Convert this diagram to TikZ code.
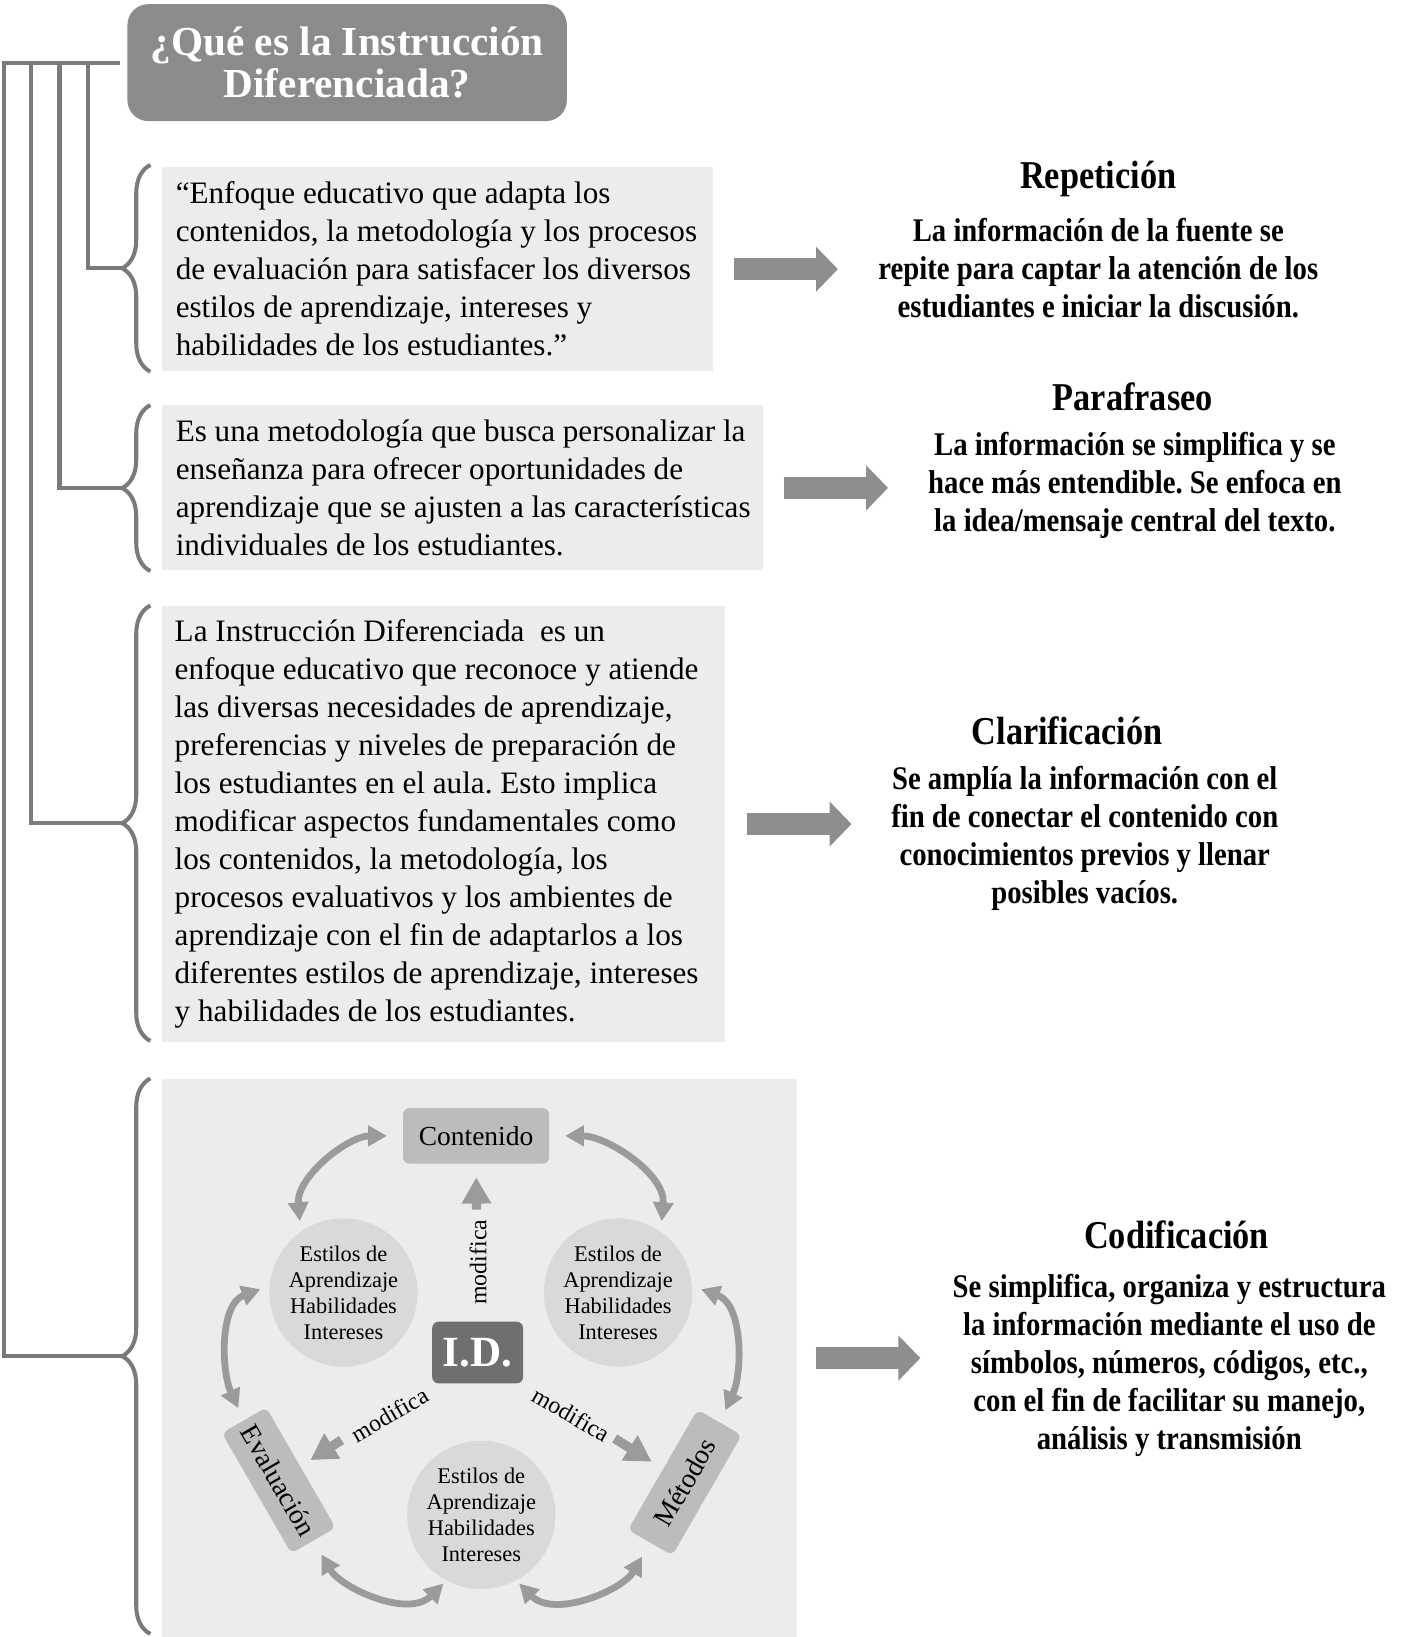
\documentclass[tikz,border=0pt]{standalone}
\usepackage{fontspec}
\setmainfont{Liberation Serif}
\newfontfamily\sidefont[FakeStretch=0.87]{Liberation Serif}
\usetikzlibrary{positioning, arrows.meta, decorations.pathreplacing}
\frenchspacing

\definecolor{bargray}{HTML}{7A7A7E}
\definecolor{titlegray}{HTML}{8B8B8D}
\definecolor{boxfill}{HTML}{ECECEC}
\definecolor{arrowgray}{HTML}{8E8E90}
\definecolor{facetfill}{HTML}{BCBCBC}
\definecolor{traitfill}{HTML}{D9D9D9}
\definecolor{corefill}{HTML}{6F6F71}
\definecolor{cycgray}{HTML}{9B9B9B}

\begin{document}
\begin{tikzpicture}[
    x=0.02cm, y=0.02cm,
    bar/.style={draw=bargray, line width=2.2pt},
    curly/.style={bar, decorate, decoration={brace, amplitude=0.54cm}},
    headbox/.style={fill=titlegray, rounded corners=0.4cm, text=white,
                    minimum width=8.42cm, minimum height=2.24cm, align=center,
                    font=\bfseries\fontsize{22.5}{22.8}\selectfont},
    txtbox/.style={fill=boxfill, anchor=north west, inner sep=0pt},
    boxtext/.style={inner sep=0pt, align=left, font=\fontsize{17}{20.7}\selectfont},
    sidetitle/.style={font=\sidefont\bfseries\fontsize{21.5}{24}\selectfont},
    sidebody/.style={align=center, font=\sidefont\bfseries\fontsize{18}{20.8}\selectfont},
    bigarrow/.style={draw=arrowgray, line width=0.42cm,
                     -{Triangle[width=0.84cm, length=0.42cm]}},
    facet/.style={fill=facetfill, rounded corners=0.12cm,
                  font=\fontsize{15}{18}\selectfont},
    trait/.style={circle, fill=traitfill, minimum size=2.84cm, inner sep=0pt,
                  align=center, font=\fontsize{12.2}{14.2}\selectfont},
    core/.style={fill=corefill, rounded corners=0.12cm, text=white,
                 minimum width=1.74cm, minimum height=1.18cm,
                 font=\bfseries\fontsize{23.5}{26}\selectfont},
    modlbl/.style={font=\fontsize{13}{15}\selectfont},
    modarrow/.style={draw=cycgray, line width=0.18cm,
                     -{Triangle[width=0.54cm, length=0.5cm]}},
    cyc/.style={draw=cycgray, line width=0.13cm,
                {Triangle[width=0.38cm, length=0.36cm]}-{Triangle[width=0.38cm, length=0.36cm]}}
  ]
  \useasboundingbox (0,0) rectangle (1357,-1568);

  % Title
  \node[headbox] (title) at (332.5,-60) {¿Qué es la Instrucción\\Diferenciada?};

  % Definitions
  \node[txtbox, minimum width=10.56cm, minimum height=3.9cm] (def1) at (155,-160) {};
  \node[boxtext, right=0.26cm of def1.west] (def1txt)
    {“Enfoque educativo que adapta los\\
     contenidos, la metodología y los procesos\\
     de evaluación para satisfacer los diversos\\
     estilos de aprendizaje, intereses y\\
     habilidades de los estudiantes.”};
  \node[txtbox, minimum width=11.52cm, minimum height=3.16cm] (def2) at (155,-388) {};
  \node[boxtext, right=0.26cm of def2.west] (def2txt)
    {Es una metodología que busca personalizar la\\
     enseñanza para ofrecer oportunidades de\\
     aprendizaje que se ajusten a las características\\
     individuales de los estudiantes.};
  \node[txtbox, minimum width=10.78cm, minimum height=8.36cm] (def3) at (155,-580) {};
  \node[boxtext, right=0.24cm of def3.west] (def3txt)
    {La Instrucción Diferenciada\ \ es un\\
     enfoque educativo que reconoce y atiende\\
     las diversas necesidades de aprendizaje,\\
     preferencias y niveles de preparación de\\
     los estudiantes en el aula. Esto implica\\
     modificar aspectos fundamentales como\\
     los contenidos, la metodología, los\\
     procesos evaluativos y los ambientes de\\
     aprendizaje con el fin de adaptarlos a los\\
     diferentes estilos de aprendizaje, intereses\\
     y habilidades de los estudiantes.};
  \node[txtbox, minimum width=12.16cm, minimum height=10.7cm] (pane) at (155,-1033) {};

  % Braces
  \draw[curly] (144,-356) -- (144,-158);
  \draw[curly] (144,-547) -- (144,-388);
  \draw[curly] (144,-997) -- (144,-580);
  \draw[curly] (144,-1565) -- (144,-1033);
  \coordinate (b1) at (117,-257);
  \coordinate (b2) at (117,-467.5);
  \coordinate (b3) at (117,-788.5);
  \coordinate (b4) at (117,-1299);

  % Trunk
  \foreach \x [count=\i] in {84,57,30,4}
    \coordinate (t\i) at (\x,-60);
  \draw[bar] ([xshift=-0.14cm]title.west) -- (t4) |- (b4);
  \foreach \i in {1,2,3}
    \draw[bar] (t\i) |- (b\i);

  % Arrows to strategies
  \draw[bigarrow] (def1.east) ++(19,0) -- ++(100,0);
  \draw[bigarrow] (def2.east) ++(19,0) -- ++(100,0);
  \draw[bigarrow] (def3.east) ++(21,0) -- ++(100,0);
  \draw[bigarrow] (pane.east) ++(18,0) -- ++(100,0);

  % Strategies
  \node[sidetitle] (repT) at (1052,-171) {Repetición};
  \node[sidebody] (rep) at (1052,-256.5)
    {La información de la fuente se\\ repite para captar la atención de los\\ estudiantes e iniciar la discusión.};
  \node[sidetitle] (parT) at (1085,-380) {Parafraseo};
  \node[sidebody] (par) at (1087,-465)
    {La información se simplifica y se\\ hace más entendible. Se enfoca en\\ la idea/mensaje central del texto.};
  \node[sidetitle] (claT) at (1022,-700) {Clarificación};
  \node[sidebody] (cla) at (1039,-803)
    {Se amplía la información con el\\ fin de conectar el contenido con\\ conocimientos previos y llenar\\ posibles vacíos.};
  \node[sidetitle] (codT) at (1127,-1183) {Codificación};
  \node[sidebody] (cod) at (1120,-1308)
    {Se simplifica, organiza y estructura\\ la información mediante el uso de\\ símbolos, números, códigos, etc.,\\ con el fin de facilitar su manejo,\\ análisis y transmisión};

  % I.D. cycle
  \node[facet, minimum width=2.8cm, minimum height=1.06cm] (cont) at (456,-1088) {Contenido};
  \node[facet, minimum width=2.66cm, minimum height=0.98cm, rotate=-60] (eval) at (267,-1418) {Evaluación};
  \node[facet, minimum width=2.66cm, minimum height=0.98cm, rotate=60] (met) at (656,-1420) {Métodos};
  \node[trait] (c1) at (329,-1238) {Estilos de\\Aprendizaje\\Habilidades\\Intereses};
  \node[trait] (c2) at (592,-1238) {Estilos de\\Aprendizaje\\Habilidades\\Intereses};
  \node[trait] (c3) at (461,-1451) {Estilos de\\Aprendizaje\\Habilidades\\Intereses};
  \node[core] (id) at (457.5,-1295.5) {I.D.};

  \draw[modarrow, shorten <=2.14cm, shorten >=0.26cm] (id.north) -- (cont.south);
  \draw[modarrow, shorten <=3.1cm, shorten >=0.72cm] (id.center) -- (eval.center);
  \draw[modarrow, shorten <=3.1cm, shorten >=0.75cm] (id.center) -- (met.center);
  \node[modlbl, rotate=90] (m1) at (458,-1209) {modifica};
  \node[modlbl, rotate=30] (m2) at (373,-1355) {modifica};
  \node[modlbl, rotate=-30] (m3) at (547,-1355) {modifica};

  \draw[cyc, shorten <=0.2cm, shorten >=0.3cm] (c1.125) to[out=95, in=180] (cont.west);
  \draw[cyc, shorten <=0.2cm, shorten >=0.3cm] (c2.55) to[out=85, in=0] (cont.east);
  \draw[cyc, shorten <=0.18cm, shorten >=0.25cm] (c1.175) to[out=200, in=115] (eval.west);
  \draw[cyc, shorten <=0.18cm, shorten >=0.25cm] (c2.5) to[out=-20, in=65] (met.east);
  \draw[cyc, shorten <=0.3cm, shorten >=0.08cm] (eval.east) to[out=-60, in=225] (c3.242);
  \draw[cyc, shorten <=0.08cm, shorten >=0.3cm] (c3.298) to[out=-45, in=240] (met.west);
\end{tikzpicture}
\end{document}
